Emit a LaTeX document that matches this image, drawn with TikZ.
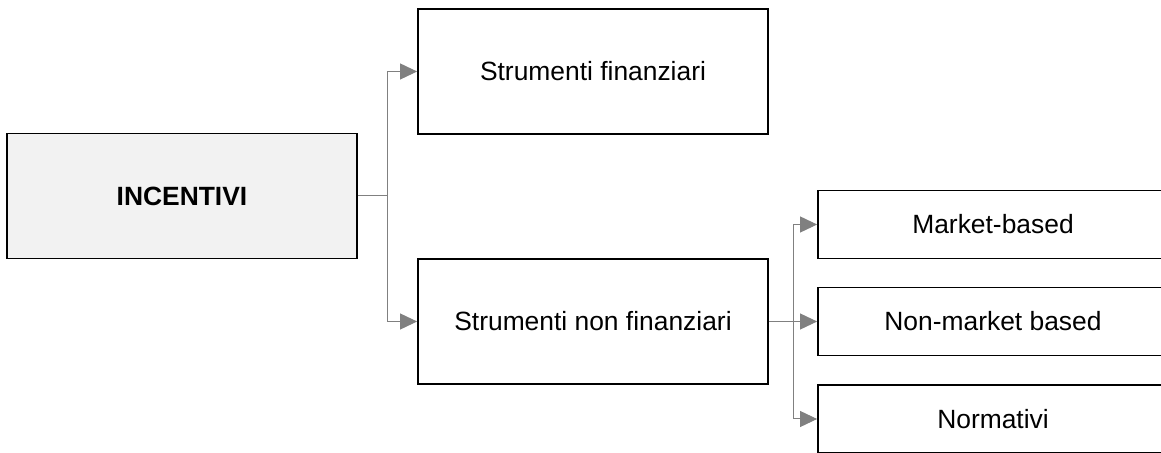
\documentclass[tikz,border=0pt]{standalone}
\usepackage{fontspec}
\setmainfont{Liberation Sans}
\usetikzlibrary{arrows.meta}
\definecolor{grigiochiaro}{HTML}{F2F2F2}
\definecolor{grigiolinea}{HTML}{808080}
\tikzset{
  box/.style={draw=black, line width=0.9pt, minimum width=175pt,
    minimum height=62.5pt, inner sep=0pt,
    font=\fontsize{13.2}{15}\selectfont},
  subbox/.style={box, minimum height=34pt},
  freccia/.style={draw=grigiolinea, line width=0.5pt,
    -{Triangle[length=8.5pt,width=8pt]}}
}
\begin{document}
\begin{tikzpicture}[x=0.5pt,y=-0.5pt]
      \useasboundingbox (0,0) rectangle (1161,453);
      \clip (0,0) rectangle (1161,453);
      \draw
        (182,196) node[box, fill=grigiochiaro, font=\fontsize{13.2}{15}\selectfont\bfseries] (inc){INCENTIVI}
        (593,71.5) node[box] (fin){Strumenti finanziari}
        (593,321.5) node[box] (nonfin){Strumenti non finanziari}
        (993,224.5) node[subbox] (mkt){Market-based}
        (993,321.5) node[subbox] (nonmkt){Non-market based}
        (993,419) node[subbox] (norm){Normativi};
      \begin{scope}[freccia]
        \draw (inc.east) -- ++(30,0) |- (fin.west);
        \draw (inc.east) -- ++(30,0) |- (nonfin.west);
        \draw (nonfin.east) -- ++(25,0) |- (mkt.west);
        \draw (nonfin.east) -- (nonmkt.west);
        \draw (nonfin.east) -- ++(25,0) |- (norm.west);
      \end{scope}
    \end{tikzpicture}
\end{document}
